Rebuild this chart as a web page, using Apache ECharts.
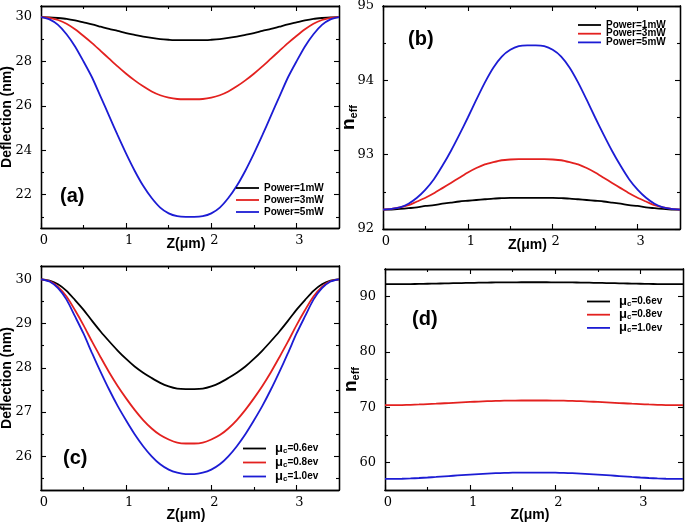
<!DOCTYPE html>
<html><head><meta charset="utf-8">
<script src="https://cdn.jsdelivr.net/npm/echarts@6/dist/echarts.min.js"></script>
<style>html,body{margin:0;padding:0;background:#fff}#c{width:685px;height:524px}</style>
</head><body><div id="c"></div>
<script>
// z positions (µm)
const zPos = [0,0.1,0.2,0.3,0.4,0.5,0.6,0.7,0.8,0.9,1.0,1.1,1.2,1.3,1.4,1.5,1.6,1.7,1.75,1.8,1.9,2.0,2.1,2.2,2.3,2.4,2.5,2.6,2.7,2.8,2.9,3.0,3.1,3.2,3.3,3.4,3.5];
// (a) Deflection vs power
const defA1 = [30,29.99,29.96,29.92,29.85,29.76,29.67,29.57,29.47,29.38,29.28,29.2,29.12,29.06,29.01,28.98,28.96,28.96,28.96,28.96,28.96,28.98,29.01,29.06,29.12,29.2,29.28,29.38,29.47,29.57,29.67,29.76,29.85,29.92,29.96,29.99,30];
const defA3 = [30,29.97,29.87,29.7,29.45,29.15,28.83,28.48,28.13,27.78,27.45,27.15,26.88,26.65,26.48,26.37,26.31,26.3,26.3,26.3,26.31,26.37,26.48,26.65,26.88,27.15,27.45,27.78,28.13,28.48,28.83,29.15,29.45,29.7,29.87,29.97,30];
const defA5 = [30,29.9,29.65,29.23,28.68,28.0,27.28,26.42,25.55,24.68,23.85,23.08,22.4,21.85,21.42,21.16,21.03,21.0,21.0,21.0,21.03,21.16,21.42,21.85,22.4,23.08,23.85,24.68,25.55,26.42,27.28,28.0,28.68,29.23,29.65,29.9,30];
// (b) n_eff vs power
const nB1 = [92.26,92.262,92.27,92.28,92.29,92.31,92.32,92.34,92.355,92.37,92.38,92.39,92.4,92.41,92.415,92.42,92.42,92.42,92.42,92.42,92.42,92.42,92.415,92.41,92.4,92.39,92.38,92.37,92.355,92.34,92.32,92.31,92.29,92.28,92.27,92.262,92.26];
const nB3 = [92.26,92.27,92.29,92.32,92.37,92.42,92.48,92.55,92.62,92.69,92.76,92.82,92.87,92.9,92.925,92.935,92.94,92.94,92.94,92.94,92.94,92.935,92.925,92.9,92.87,92.82,92.76,92.69,92.62,92.55,92.48,92.42,92.37,92.32,92.29,92.27,92.26];
const nB5 = [92.26,92.27,92.29,92.34,92.42,92.53,92.67,92.85,93.05,93.27,93.5,93.74,93.97,94.17,94.32,94.41,94.46,94.47,94.47,94.47,94.46,94.41,94.32,94.17,93.97,93.74,93.5,93.27,93.05,92.85,92.67,92.53,92.42,92.34,92.29,92.27,92.26];
// (c) Deflection vs chemical potential
const defC06 = [30,29.97,29.89,29.74,29.53,29.31,29.06,28.82,28.6,28.39,28.2,28.03,27.89,27.77,27.66,27.58,27.53,27.52,27.52,27.52,27.53,27.58,27.66,27.77,27.89,28.03,28.2,28.39,28.6,28.82,29.06,29.31,29.53,29.74,29.89,29.97,30];
const defC08 = [30,29.96,29.83,29.61,29.3,28.96,28.59,28.24,27.9,27.59,27.31,27.05,26.82,26.63,26.48,26.38,26.31,26.29,26.29,26.29,26.31,26.38,26.48,26.63,26.82,27.05,27.31,27.59,27.9,28.24,28.59,28.96,29.3,29.61,29.83,29.96,30];
const defC10 = [30,29.95,29.8,29.54,29.16,28.77,28.33,27.91,27.51,27.14,26.81,26.5,26.23,26.0,25.82,25.7,25.63,25.6,25.6,25.6,25.63,25.7,25.82,26.0,26.23,26.5,26.81,27.14,27.51,27.91,28.33,28.77,29.16,29.54,29.8,29.95,30];
// (d) n_eff vs chemical potential
const nD06 = [92.25,92.25,92.26,92.28,92.3,92.33,92.36,92.39,92.43,92.46,92.49,92.52,92.55,92.57,92.58,92.59,92.6,92.6,92.6,92.6,92.6,92.59,92.58,92.57,92.55,92.52,92.49,92.46,92.43,92.39,92.36,92.33,92.3,92.28,92.26,92.25,92.25];
const nD08 = [70.35,70.36,70.38,70.42,70.48,70.55,70.62,70.7,70.78,70.86,70.94,71.0,71.07,71.12,71.16,71.18,71.2,71.2,71.2,71.2,71.2,71.18,71.16,71.12,71.07,71.0,70.94,70.86,70.78,70.7,70.62,70.55,70.48,70.42,70.38,70.36,70.35];
const nD10 = [57.0,57.01,57.04,57.09,57.17,57.26,57.36,57.47,57.58,57.69,57.79,57.89,57.97,58.04,58.09,58.13,58.15,58.15,58.15,58.15,58.15,58.13,58.09,58.04,57.97,57.89,57.79,57.69,57.58,57.47,57.36,57.26,57.17,57.09,57.04,57.01,57.0];

const powerNames = ['Power=1mW','Power=3mW','Power=5mW'];
const muNames = ['μc=0.6ev','μc=0.8ev','μc=1.0ev'];
const panelLabels = ['(a)','(b)','(c)','(d)'];

const xMajor = [0,1,2,3], xMinor = [0.5,1.5,2.5];
const aMajor = [22,24,26,28,30], aMinor = [21,23,25,27,29];
const bMajor = [92,93,94,95], bMinor = [92.5,93.5,94.5];
const cMajor = [26,27,28,29,30], cMinor = [25.5,26.5,27.5,28.5,29.5];
const dMajor = [60,70,80,90], dMinor = [65,75,85];

const COLORS = ['#000000','#e3211f','#1c1cd4'];
const SANS = 'Liberation Sans, Arial, sans-serif';
const SERIF = 'DejaVu Serif, serif';

const grids = [
  {left:41, top:6, width:298, height:222},
  {left:383, top:6, width:297, height:223},
  {left:41, top:266, width:298, height:224},
  {left:385, top:269, width:298, height:221}
];
const yRanges = [[20.5,30.5],[92,95],[25.24,30.3],[55,95]];
const yTicks = [[aMajor,aMinor],[bMajor,bMinor],[cMajor,cMinor],[dMajor,dMinor]];

const nameStyleDefl = {fontFamily:SANS, fontWeight:'bold', fontSize:14, color:'#000'};
const nameStyleNeff = {fontFamily:SANS, color:'#000', rich:{
  n:{fontFamily:SANS, fontWeight:'bold', fontSize:19, color:'#000'},
  s:{fontFamily:SANS, fontWeight:'bold', fontSize:11, color:'#000', padding:[10,0,0,0]}
}};
const yNames = [
  {name:'Deflection (nm)', nameGap:27, nameTextStyle:nameStyleDefl},
  {name:'{n|n}{s|eff}', nameGap:24, nameTextStyle:nameStyleNeff},
  {name:'Deflection (nm)', nameGap:27, nameTextStyle:nameStyleDefl},
  {name:'{n|n}{s|eff}', nameGap:24, nameTextStyle:nameStyleNeff}
];
const xNameGaps = [9, 9, 18, 18];

const xAxes = [], yAxes = [];
function lineCfg(){ return {show:true, onZero:false, lineStyle:{color:'#000', width:1.3}}; }
function pushAxes(list, dim, gi, min, max, majors, minors, labelOpt, nameOpt){
  const pos = dim === 'x' ? ['bottom','top'] : ['left','right'];
  const mk = (p, vals, len, lab) => Object.assign({
    type:'value', gridIndex:gi, min:min, max:max, position:p, nameMoveOverlap:false,
    splitLine:{show:false}, axisLine:lineCfg(),
    axisTick:{show:true, inside:true, length:len, customValues:vals, lineStyle:{color:'#000', width:1.1}},
    axisLabel: lab ? Object.assign({show:true, customValues:majors}, labelOpt) : {show:false}
  }, lab ? nameOpt : {});
  list.push(mk(pos[0], majors, 5, true));
  list.push(mk(pos[0], minors, 3, false));
  list.push(mk(pos[1], majors, 5, false));
  list.push(mk(pos[1], minors, 3, false));
}
for (let g = 0; g < 4; g++) {
  pushAxes(xAxes, 'x', g, 0, 3.5, xMajor, xMinor,
    {fontFamily:SERIF, fontSize:13, color:'#000', margin:6, padding:[0,0,0,6]},
    {name:'Z(μm)', nameLocation:'middle', nameGap:xNameGaps[g],
     nameTextStyle:{fontFamily:SANS, fontWeight:'bold', fontSize:14, color:'#000', padding:[0,8,0,0]}});
  pushAxes(yAxes, 'y', g, yRanges[g][0], yRanges[g][1], yTicks[g][0], yTicks[g][1],
    {fontFamily:SERIF, fontSize:13, color:'#000', margin:9},
    Object.assign({nameLocation:'middle', nameRotate:90}, yNames[g]));
}

const pairs = vals => zPos.map((z, i) => [z, vals[i]]);
const seriesDefs = [
  [0, powerNames[0], defA1, 0],[0, powerNames[1], defA3, 1],[0, powerNames[2], defA5, 2],
  [1, powerNames[0], nB1, 0],[1, powerNames[1], nB3, 1],[1, powerNames[2], nB5, 2],
  [2, muNames[0], defC06, 0],[2, muNames[1], defC08, 1],[2, muNames[2], defC10, 2],
  [3, muNames[0], nD06, 0],[3, muNames[1], nD08, 1],[3, muNames[2], nD10, 2]
];
const series = seriesDefs.map(([g, name, vals, ci]) => ({
  type:'line', name:name, xAxisIndex:g*4, yAxisIndex:g*4,
  data:pairs(vals), smooth:0.25, symbol:'none', showSymbol:false,
  lineStyle:{color:COLORS[ci], width:1.8}, itemStyle:{color:COLORS[ci]},
  silent:true, animation:false
}));

const powerText = {fontFamily:SANS, fontWeight:'bold', fontSize:10, color:'#000', lineHeight:10};
const muText = {fontFamily:SANS, fontWeight:'bold', fontSize:10, color:'#000', padding:[0,0,0,4], rich:{
  mu:{fontFamily:SANS, fontWeight:'bold', fontSize:13, color:'#000', lineHeight:11},
  sub:{fontFamily:SANS, fontWeight:'bold', fontSize:8, color:'#000', lineHeight:11, padding:[4,0,0,0]},
  t:{fontFamily:SANS, fontWeight:'bold', fontSize:10, color:'#000', lineHeight:11}
}};
const muFmt = n => '{mu|μ}{sub|c}{t|' + n.slice(2) + '}';
const legBase = {orient:'vertical', itemWidth:23, selectedMode:false, padding:0, icon:'path://M0,0L23,0L23,1.8L0,1.8Z'};
const legends = [
  Object.assign({}, legBase, {left:236, top:183, itemHeight:2, itemGap:2, data:powerNames, textStyle:powerText}),
  Object.assign({}, legBase, {left:578, top:20, itemHeight:2, itemGap:-1.3, data:powerNames, textStyle:powerText}),
  Object.assign({}, legBase, {left:243, top:442, itemHeight:2, itemGap:1, data:muNames, textStyle:muText, formatter:muFmt}),
  Object.assign({}, legBase, {left:587, top:295, itemHeight:2, itemGap:0.2, data:muNames, textStyle:muText, formatter:muFmt})
];

const labelPos = [[60,196],[408,39],[63,458],[412,319]];
const graphic = panelLabels.map((t, i) => ({
  type:'text', x:labelPos[i][0], y:labelPos[i][1], silent:true,
  style:{text:t, fill:'#000', font:'bold 20px ' + SANS, verticalAlign:'middle'}
}));

const chart = echarts.init(document.getElementById('c'), null, {renderer:'canvas'});
chart.setOption({
  animation:false,
  backgroundColor:'#ffffff',
  grid: grids.map(g => Object.assign({containLabel:false, outerBoundsMode:'none'}, g)),
  xAxis: xAxes, yAxis: yAxes,
  legend: legends,
  series: series,
  graphic: graphic
});
</script></body></html>
